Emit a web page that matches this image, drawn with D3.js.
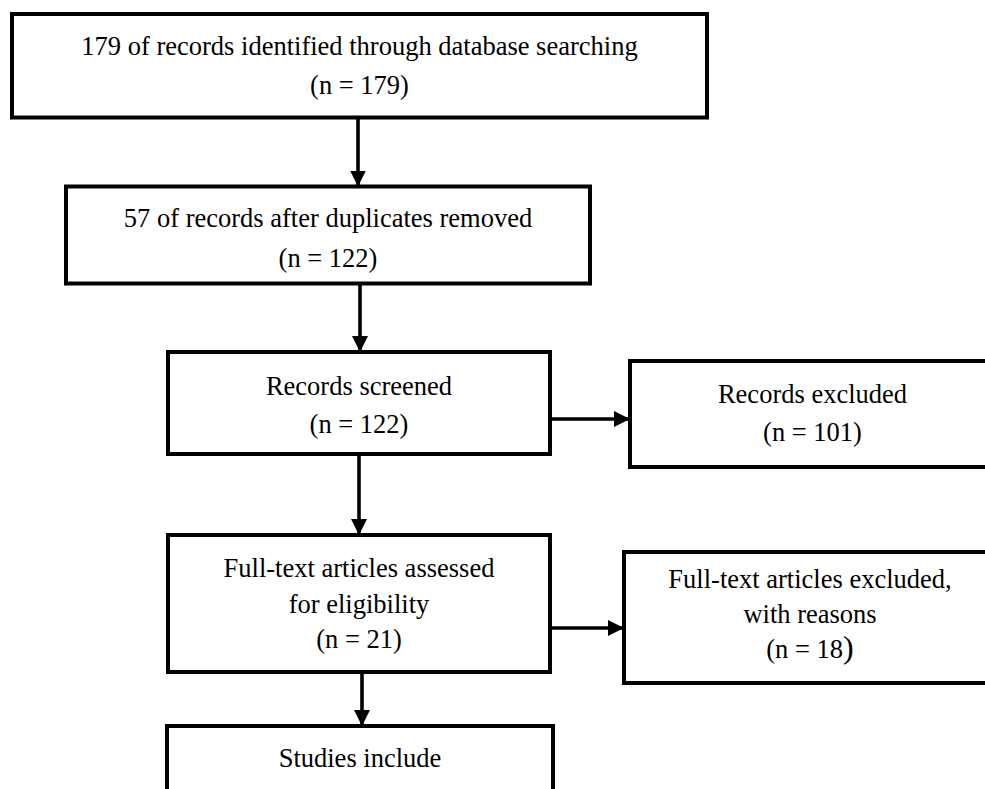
<!DOCTYPE html>
<html>
<head>
<meta charset="utf-8">
<script src="https://cdn.jsdelivr.net/npm/d3@7"></script>
<style>
  body { margin: 0; background: #fff; }
  svg { display: block; }
</style>
</head>
<body>
<div id="svg"></div>
<script>

// flow stages, top to bottom then the side boxes
var stage_ids = ["ident", "dupl", "screen", "excl", "full", "fullexcl", "incl"];

var stage_lines = [
    ["179 of records identified through database searching"],
    ["57 of records after duplicates removed"],
    ["Records screened"],
    ["Records excluded"],
    ["Full-text articles assessed", "for eligibility"],
    ["Full-text articles excluded,", "with reasons"],
    ["Studies include"]
];

var stage_counts = [179, 122, 122, 101, 21, 18, null];

var links = [
    ["ident", "dupl"],
    ["dupl", "screen"],
    ["screen", "excl"],
    ["screen", "full"],
    ["full", "fullexcl"],
    ["full", "incl"]
];


var svg = {width: 985, height: 789};

// box geometry, in page pixels
var lay = {
    ident:    {x0: 12,  x1: 707, y0: 14,  y1: 117.5, base: 55,  lh: 39},
    dupl:     {x0: 66,  x1: 590, y0: 186.5, y1: 283.5, base: 227, lh: 40},
    screen:   {x0: 168, x1: 550, y0: 352, y1: 454, base: 395, lh: 38},
    excl:     {x0: 630, x1: 995, y0: 361, y1: 467, base: 403, lh: 38},
    full:     {x0: 168, x1: 550, y0: 535, y1: 672, base: 577, lh: 35.5},
    fullexcl: {x0: 624, x1: 996, y0: 552, y1: 683, base: 588, lh: 35},
    incl:     {x0: 167, x1: 553, y0: 726, y1: 820, base: 767, lh: 38}
};

// arrow anchors that do not sit on a box centre
var arrow_x = {"ident-dupl": 358, "dupl-screen": 360, "screen-full": 359, "full-incl": 362};
var arrow_y = {"screen-excl": 419, "full-fullexcl": 628};

var x = d3.scaleLinear().domain([0, svg.width]).range([0, svg.width]);
var y = d3.scaleLinear().domain([0, svg.height]).range([0, svg.height]);

var stroke_w = 4;
var font_sz = 26.5;


var svg_cont = d3.select("body").select("[id=\"svg\"]").append("svg")
    .attr("width", svg.width)
    .attr("height", svg.height)
    .attr("text-anchor", "middle")
    .style("font-family", "'Liberation Serif', 'Times New Roman', serif");

svg_cont.append("defs")
    .append("marker")
    .attr("id", "head")
    .attr("viewBox", "0 0 16 16")
    .attr("refX", 16)
    .attr("refY", 8)
    .attr("markerUnits", "userSpaceOnUse")
    .attr("markerWidth", 16)
    .attr("markerHeight", 16)
    .attr("orient", "auto")
    .append("path")
    .attr("d", "M0,0 L16,8 L0,16 Z")
    .attr("fill", "#000");

var stages = stage_ids.map(function(id, i) {
    return {id: id, lines: stage_lines[i], n: stage_counts[i], box: lay[id]};
});
var by_id = {};
stages.forEach(function(s) { by_id[s.id] = s; });

var lg = svg_cont.append("g").attr("id", "lay-links");
var bg = svg_cont.append("g").attr("id", "lay-boxes");


/*---------------------
  ------- BOXES -------
  ---------------------*/
bg.selectAll("rect.box")
    .data(stages)
    .enter()
    .append("rect")
    .attr("class", "box")
    .attr("x", function(d) { return x(d.box.x0); })
    .attr("y", function(d) { return y(d.box.y0); })
    .attr("width", function(d) { return x(d.box.x1) - x(d.box.x0); })
    .attr("height", function(d) { return y(d.box.y1) - y(d.box.y0); })
    .attr("fill", "none")
    .attr("stroke", "#000")
    .attr("stroke-width", stroke_w);

var txt = bg.selectAll("text.lbl")
    .data(stages)
    .enter()
    .append("text")
    .attr("class", "lbl")
    .attr("font-size", font_sz)
    .attr("fill", "#000");

txt.each(function(d) {
    var t = d3.select(this);
    var cx = x((d.box.x0 + d.box.x1) / 2);
    d.lines.forEach(function(l, i) {
	t.append("tspan")
	    .attr("x", cx)
	    .attr("y", y(d.box.base + i * d.box.lh))
	    .text(l);
    });
    if (d.n != null) {
	var last = t.append("tspan")
	    .attr("x", cx)
	    .attr("y", y(d.box.base + d.lines.length * d.box.lh));
	if (d.id == "fullexcl") {
	    // closing paren came out in a bigger font in the original
	    last.text("(n = " + d.n);
	    t.append("tspan").attr("font-size", 32).text(")");
	} else {
	    last.text("(n = " + d.n + ")");
	}
    }
});


/*---------------------
  ------- ARROWS ------
  ---------------------*/
function link_path(l) {
    var a = by_id[l[0]].box, b = by_id[l[1]].box;
    var key = l[0] + "-" + l[1];
    if (key in arrow_y) {
	return {x1: a.x1, y1: arrow_y[key], x2: b.x0, y2: arrow_y[key]};
    }
    var ax = arrow_x[key];
    return {x1: ax, y1: a.y1, x2: ax, y2: b.y0};
}

lg.selectAll("line.arrow")
    .data(links.map(link_path))
    .enter()
    .append("line")
    .attr("class", "arrow")
    .attr("x1", function(d) { return x(d.x1); })
    .attr("y1", function(d) { return y(d.y1); })
    .attr("x2", function(d) { return x(d.x2); })
    .attr("y2", function(d) { return y(d.y2); })
    .attr("stroke", "#000")
    .attr("stroke-width", 3.6)
    .attr("marker-end", "url(#head)");

</script>
</body>
</html>
